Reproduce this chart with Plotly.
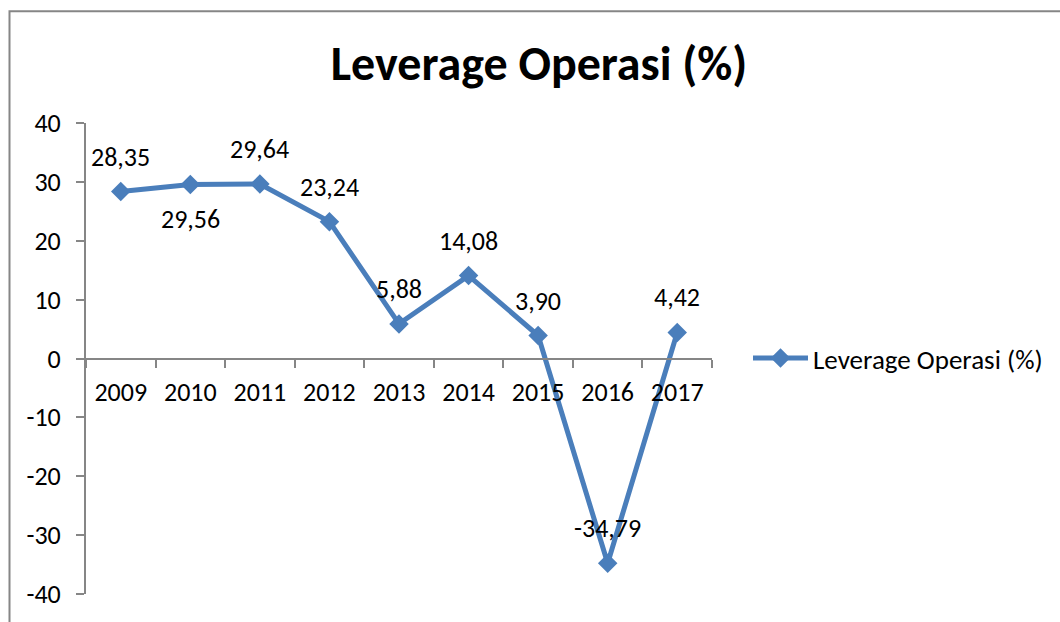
import plotly.graph_objects as go

years = ["2009", "2010", "2011", "2012", "2013", "2014", "2015", "2016", "2017"]
values = [28.35, 29.56, 29.64, 23.24, 5.88, 14.08, 3.90, -34.79, 4.42]
label_side = [1, -1, 1, 1, 1, 1, 1, 1, 1]  # 1 = above, -1 = below
series_name = "Leverage Operasi (%)"
title_text = "Leverage Operasi (%)"
y_ticks = [-40, -30, -20, -10, 0, 10, 20, 30, 40]
y_ticktext = [str(v) for v in y_ticks]

FONT = "Carlito, Calibri, Lato, sans-serif"
BLUE = "#4A7EBB"
GRAY = "#868686"

fig = go.Figure()
fig.add_trace(go.Scatter(
    x=years, y=values, mode="lines+markers", name=series_name,
    line=dict(color=BLUE, width=5),
    marker=dict(symbol="diamond", size=15, color=BLUE),
))

for i, (v, s) in enumerate(zip(values, label_side)):
    fig.add_annotation(
        x=i, y=v, xref="x", yref="y", text=f"{v:.2f}".replace(".", ","), showarrow=False,
        yshift=35 * s, font=dict(family=FONT, size=26, color="black"),
    )

L, R, T, B = 86, 712, 123, 597
W, H = 1060, 622
pw, ph = R - L, B - T

def px(xp):
    return (xp - L) / pw

def py(yp):
    return (B - yp) / ph

fig.add_shape(type="rect", xref="paper", yref="paper",
              x0=px(9.5), x1=px(1075), y0=py(640), y1=py(10.5),
              line=dict(color=GRAY, width=2), fillcolor="rgba(0,0,0,0)", layer="below")

fig.update_layout(
    width=W, height=H,
    margin=dict(l=L, r=W - R, t=T, b=H - B),
    plot_bgcolor="white", paper_bgcolor="white",
    font=dict(family=FONT, size=26, color="black"),
    title=dict(text=f"<b>{title_text}</b>", xref="container", x=539 / W, xanchor="center",
               yref="container", y=1 - 63 / H, yanchor="middle",
               font=dict(family=FONT, size=48, color="black")),
    showlegend=True,
    legend=dict(x=px(748), y=0.5, xanchor="left", yanchor="middle",
                font=dict(family=FONT, size=27, color="black"),
                itemwidth=55, bgcolor="rgba(0,0,0,0)"),
    xaxis=dict(type="category", anchor="free", position=0.5,
               showline=True, linecolor=GRAY, linewidth=2,
               ticks="outside", ticklen=8, tickcolor=GRAY, tickwidth=2,
               tickson="boundaries", showgrid=False, zeroline=False,
               range=[-0.5, 8.5], ticklabelstandoff=10,
               tickfont=dict(family=FONT, size=26, color="black")),
    yaxis=dict(range=[-40, 40], tickvals=y_ticks, ticktext=y_ticktext, showline=True,
               linecolor=GRAY, linewidth=2, ticks="outside", ticklen=8, tickcolor=GRAY,
               tickwidth=2, showgrid=False, zeroline=False, ticklabelstandoff=10,
               tickfont=dict(family=FONT, size=26, color="black")),
)

fig.write_html("out.html", config={"displayModeBar": False},
               post_script="document.body.style.margin='0';")
